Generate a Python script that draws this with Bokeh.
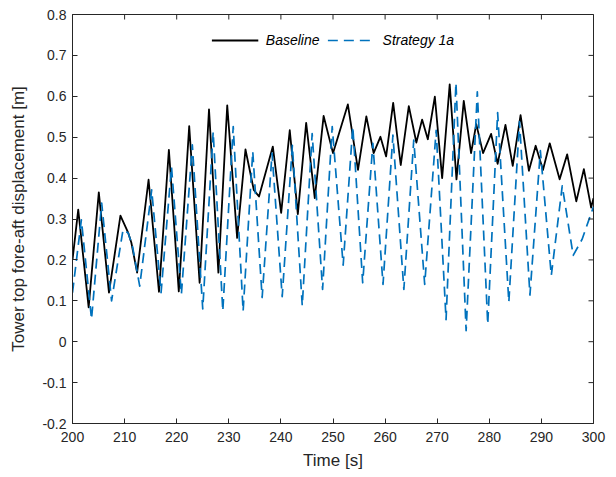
from math import pi
from bokeh.plotting import figure
from bokeh.models import Range1d, FixedTicker, NumeralTickFormatter, Legend, LegendItem
from bokeh.embed import file_html
from bokeh.resources import INLINE

# ---- data ----
baseline_t = [200.0, 201.1, 203.1, 205.05, 207.0, 209.2, 210.7, 211.3, 212.4, 214.6, 216.6, 218.5, 220.4,
              222.4, 224.4, 226.2, 228.0, 229.7, 231.6, 233.2, 234.8, 235.8, 238.45, 240.05, 241.7, 243.25,
              244.85, 246.5, 248.2, 250.0, 252.85, 254.8, 256.4, 257.8, 259.1, 260.2, 261.55, 263.0, 264.55,
              266.0, 267.1, 268.2, 269.55, 270.95, 272.4, 273.7, 275.1, 276.5, 277.5, 278.8, 280.35, 281.6,
              283.1, 284.5, 286.0, 287.6, 288.9, 290.3, 291.6, 293.5, 294.95, 296.7, 298.15, 299.55, 300.0]
baseline_v = [0.20, 0.323, 0.084, 0.365, 0.12, 0.308, 0.266, 0.242, 0.169, 0.396, 0.122, 0.469, 0.123,
              0.527, 0.144, 0.568, 0.169, 0.578, 0.254, 0.470, 0.371, 0.355, 0.477, 0.315, 0.517, 0.312,
              0.535, 0.351, 0.552, 0.461, 0.58, 0.42, 0.551, 0.461, 0.501, 0.453, 0.584, 0.432, 0.576,
              0.487, 0.543, 0.495, 0.599, 0.40, 0.629, 0.397, 0.589, 0.461, 0.532, 0.461, 0.508, 0.435,
              0.53, 0.43, 0.554, 0.418, 0.479, 0.42, 0.485, 0.397, 0.458, 0.343, 0.422, 0.328, 0.351]

strategy_t = [200.0, 201.7, 203.65, 205.6, 207.5, 209.7, 210.7, 211.5, 212.9, 215.2, 217.0, 219.0, 220.9,
              223.0, 225.0, 227.0, 228.85, 230.85, 232.75, 234.6, 236.4, 238.3, 240.25, 242.2, 244.1,
              246.0, 248.0, 249.85, 251.95, 253.8, 255.7, 257.65, 259.6, 261.5, 263.6, 265.5, 267.6,
              269.8, 271.7, 273.6, 275.55, 277.7, 279.7, 281.6, 283.75, 285.8, 287.8, 289.8, 291.9,
              294.0, 296.1, 297.8, 300.0]
strategy_v = [0.12, 0.298, 0.055, 0.339, 0.10, 0.274, 0.266, 0.234, 0.136, 0.371, 0.12, 0.428, 0.116,
              0.481, 0.08, 0.513, 0.075, 0.526, 0.075, 0.465, 0.108, 0.461, 0.11, 0.48, 0.088,
              0.509, 0.128, 0.526, 0.187, 0.526, 0.144, 0.485, 0.14, 0.505, 0.128, 0.493, 0.14,
              0.517, 0.054, 0.633, 0.027, 0.611, 0.043, 0.56, 0.097, 0.538, 0.114, 0.467, 0.162,
              0.381, 0.211, 0.25, 0.33]

x_ticks = [200, 210, 220, 230, 240, 250, 260, 270, 280, 290, 300]
y_ticks = [-0.2, -0.1, 0, 0.1, 0.2, 0.3, 0.4, 0.5, 0.6, 0.7, 0.8]
x_min, x_max = 200, 300
y_min, y_max = -0.2, 0.8

FONT = "Liberation Sans"
AX = "#262626"

p = figure(width=616, height=477, output_backend="svg", toolbar_location=None,
           x_range=Range1d(x_min, x_max), y_range=Range1d(y_min, y_max),
           min_border_left=72, min_border_right=23, min_border_top=14, min_border_bottom=54)
p.background_fill_color = "white"
p.border_fill_color = "white"
p.outline_line_color = AX
p.outline_line_width = 1
p.xgrid.visible = False
p.ygrid.visible = False

r1 = p.line(baseline_t, baseline_v, line_color="black", line_width=1.8, line_join="round")
r2 = p.line(strategy_t, strategy_v, line_color="#0072BD", line_width=1.7, line_dash="10 6",
            line_join="round")

# inward ticks on the top and right edges of the box
p.scatter(x_ticks, [y_max] * len(x_ticks), marker="dash", angle=pi / 2, size=10,
          line_color=AX, line_width=1)
p.scatter([x_max] * len(y_ticks), y_ticks, marker="dash", size=10, line_color=AX, line_width=1)

def style_axis(ax):
    ax.axis_line_color = AX
    ax.major_tick_line_color = AX
    ax.major_tick_in = 5
    ax.major_tick_out = 0
    ax.minor_tick_line_color = None
    ax.major_label_text_font = FONT
    ax.major_label_text_font_size = "14px"
    ax.major_label_text_color = AX
    ax.axis_label_text_font = FONT
    ax.axis_label_text_font_size = "17px"
    ax.axis_label_text_font_style = "normal"
    ax.axis_label_text_color = AX

xa = p.xaxis[0]
xa.ticker = FixedTicker(ticks=x_ticks)
xa.axis_label = "Time [s]"
style_axis(xa)
xa.major_label_standoff = 8
xa.axis_label_standoff = 6

ya = p.yaxis[0]
ya.ticker = FixedTicker(ticks=y_ticks)
ya.formatter = NumeralTickFormatter(format="0.[0]")
ya.axis_label = "Tower top fore-aft displacement [m]"
style_axis(ya)
ya.major_label_standoff = 6
ya.axis_label_standoff = 11

legend = Legend(items=[LegendItem(label="Baseline", renderers=[r1]),
                       LegendItem(label="Strategy 1a", renderers=[r2])],
                location="top_center", orientation="horizontal")
legend.border_line_color = None
legend.background_fill_alpha = 0
legend.label_text_font = FONT
legend.label_text_font_size = "14px"
legend.label_text_font_style = "italic"
legend.label_text_color = "black"
legend.glyph_width = 47
legend.label_standoff = 8
legend.spacing = 8
legend.padding = 4
legend.margin = 16
p.add_layout(legend, "center")

open("out.html", "w").write(file_html(p, INLINE))
